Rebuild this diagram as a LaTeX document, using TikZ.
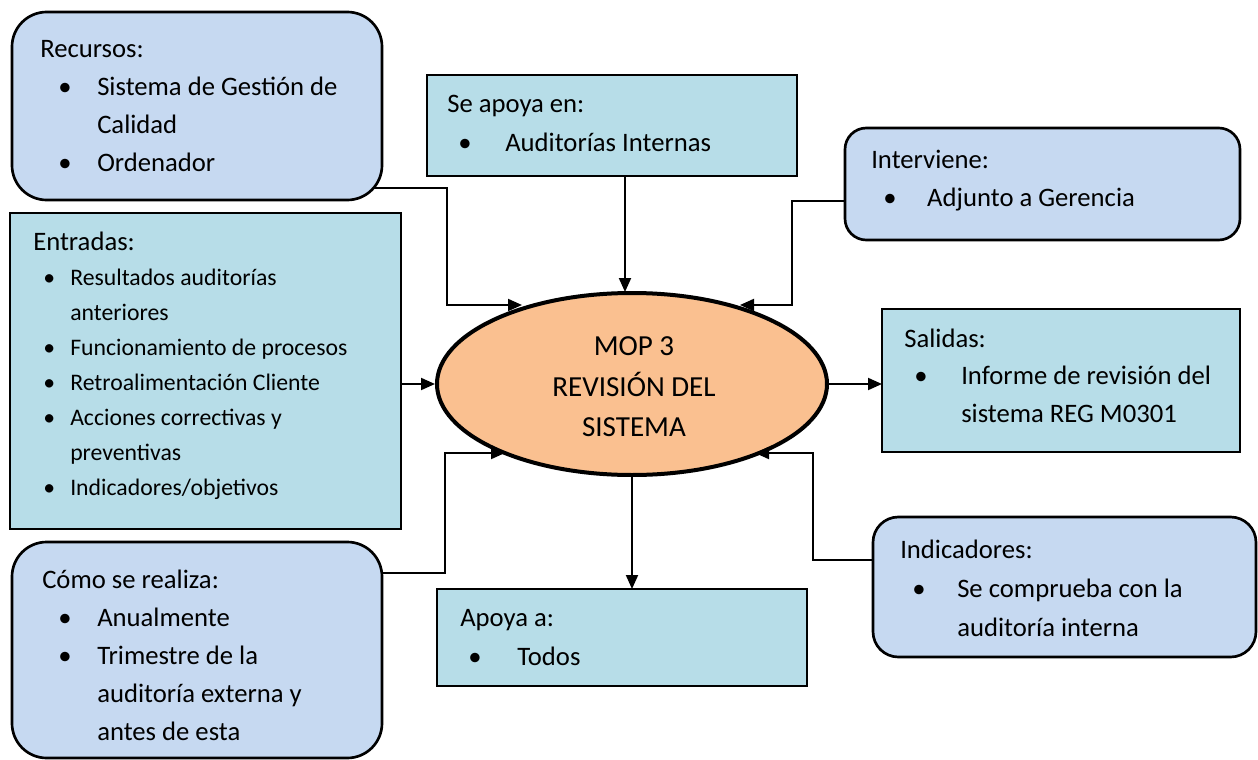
\documentclass[tikz,border=0pt]{standalone}
\usepackage{fontspec}
\setmainfont{Carlito}
\usetikzlibrary{arrows.meta,shapes.geometric,fit}

\definecolor{roundfill}{HTML}{C6D9F1}
\definecolor{rectfill}{HTML}{B7DDE8}
\definecolor{ellfill}{HTML}{FAC090}

% bullet: left gap, then bullet set in a box of the given width
\newcommand\bul[2]{\hspace*{#1}\makebox[#2][l]{\textbullet}}

\tikzset{
  rbox/.style={draw=black, line width=2pt, fill=roundfill, inner sep=0pt, outer sep=0pt},
  sbox/.style={draw=black, line width=2pt, fill=rectfill, inner sep=0pt, outer sep=0pt},
  % texts are placed by the baseline of their last line
  txt/.style={anchor=base west, inner sep=0pt, align=left},
  big/.style={font=\fontsize{20}{28.5}\selectfont},
  small/.style={font=\fontsize{17.8}{26.25}\selectfont},
  arr/.style={draw=black, line width=1.5pt, -{Triangle[length=10.5pt,width=9pt]}},
}

\begin{document}
\begin{tikzpicture}[x=0.75pt,y=-0.75pt]
\useasboundingbox (0,0) rectangle (1258,760);

% boxes
\node[rbox, rounded corners=26pt, fit={(12,12) (382,200)}] (rec) {};
\node[sbox, fit={(427,75) (797,176)}] (sap) {};
\node[rbox, rounded corners=16pt, fit={(845,128) (1240,240)}] (int) {};
\node[sbox, fit={(10,213) (401,529)}] (ent) {};
\node[sbox, fit={(882,309) (1240,452)}] (sal) {};
\node[rbox, rounded corners=26pt, fit={(12,542) (382,758)}] (com) {};
\node[sbox, fit={(437,589) (807,686)}] (apo) {};
\node[rbox, rounded corners=19pt, fit={(873,517) (1256,657)}] (ind) {};

% central process
\node[ellipse, draw=black, line width=3pt, fill=ellfill, inner sep=0pt,
      minimum width=292.5pt, minimum height=136.5pt] (ell) at (632,384) {};
\node[align=center, inner sep=0pt, font=\fontsize{21.8}{30.4}\selectfont]
  (ellT) at (634,387) {MOP 3\\REVISIÓN DEL\\SISTEMA};

% box texts
\node[txt, big] (recT) at (40,171) {Recursos:\\
  \bul{13.5pt}{29.25pt}Sistema de Gestión de\\
  \hspace*{42.75pt}Calidad\\
  \bul{13.5pt}{29.25pt}Ordenador};
\node[txt, big, font=\fontsize{20}{29.25}\selectfont] (sapT) at (447,151) {Se apoya en:\\
  \bul{8.25pt}{35.25pt}Auditorías Internas};
\node[txt, big] (intT) at (871,206) {Interviene:\\
  \bul{9pt}{33pt}Adjunto a Gerencia};
\node[txt, small] (entT) at (33,495) {{\fontsize{20}{26.25}\selectfont Entradas:}\\
  \bul{7.5pt}{20.25pt}Resultados auditorías\\
  \hspace*{27.75pt}anteriores\\
  \bul{7.5pt}{20.25pt}Funcionamiento de procesos\\
  \bul{7.5pt}{20.25pt}Retroalimentación Cliente\\
  \bul{7.5pt}{20.25pt}Acciones correctivas y\\
  \hspace*{27.75pt}preventivas\\
  \bul{7.5pt}{20.25pt}Indicadores/objetivos};
\node[txt, big, font=\fontsize{20}{28.1}\selectfont] (salT) at (904,422) {Salidas:\\
  \bul{7.5pt}{35.25pt}Informe de revisión del\\
  \hspace*{42.75pt}sistema REG M0301};
\node[txt, big] (comT) at (42,740) {Cómo se realiza:\\
  \bul{12pt}{29.25pt}Anualmente\\
  \bul{12pt}{29.25pt}Trimestre de la\\
  \hspace*{41.25pt}auditoría externa y\\
  \hspace*{41.25pt}antes de esta};
\node[txt, big, font=\fontsize{20}{29.25}\selectfont] (apoT) at (460,665) {Apoya a:\\
  \bul{6pt}{36.75pt}Todos};
\node[txt, big, font=\fontsize{20}{29.25}\selectfont] (indT) at (900,636) {Indicadores:\\
  \bul{9pt}{33.75pt}Se comprueba con la\\
  \hspace*{42.75pt}auditoría interna};

% connector end points
\coordinate (pRec) at (373,188);
\coordinate (pNW)  at (522,305);
\coordinate (pTop) at (625,292);
\coordinate (pInt) at (845,201);
\coordinate (pNE)  at (740,305);
\coordinate (pCom) at (382,573);
\coordinate (pSW)  at (505,453);
\coordinate (pInd) at (873,560);
\coordinate (pSE)  at (755,453);

% connectors
\draw[arr] (pRec) -| (447,305) -- (pNW);
\draw[arr] (pTop |- sap.south) -- (pTop);
\draw[arr] (pInt) -| (792,305) -- (pNE);
\draw[arr] (ent.east |- ell.west) -- (ell.west);
\draw[arr] (ell.east) -- (sal.west |- ell.east);
\draw[arr] (pCom) -| (445,453) -- (pSW);
\draw[arr] (ell.south) -- (ell.south |- apo.north);
\draw[arr] (pInd) -| (813,453) -- (pSE);
\end{tikzpicture}
\end{document}
